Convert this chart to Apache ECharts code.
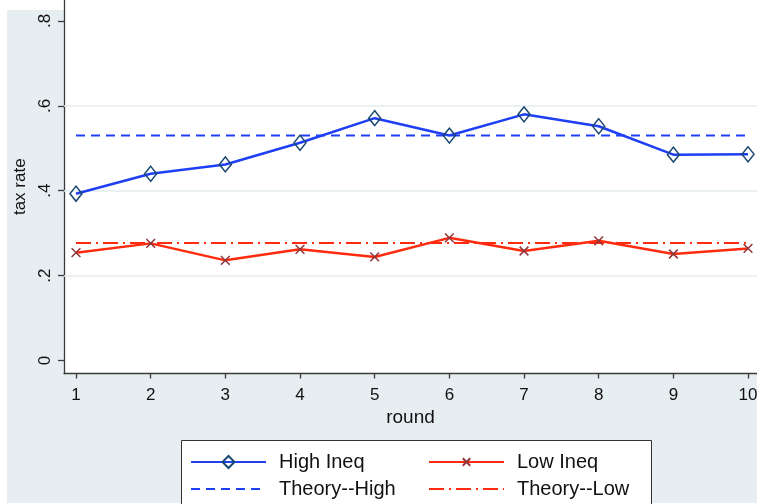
<!DOCTYPE html>
<html>
<head>
<meta charset="utf-8">
<script src="https://cdn.jsdelivr.net/npm/echarts@6/dist/echarts.min.js"></script>
<style>
  html, body { margin: 0; padding: 0; background: #fff; }
  #main { width: 757px; height: 504px; }
</style>
</head>
<body>
<div id="main"></div>
<script>
// data
var rounds = [1, 2, 3, 4, 5, 6, 7, 8, 9, 10];
var highIneq = [0.393, 0.440, 0.462, 0.513, 0.571, 0.530, 0.580, 0.552, 0.485, 0.486];
var lowIneq = [0.254, 0.276, 0.236, 0.262, 0.244, 0.289, 0.258, 0.282, 0.251, 0.264];
var theoryHigh = [0.53, 0.53, 0.53, 0.53, 0.53, 0.53, 0.53, 0.53, 0.53, 0.53];
var theoryLow = [0.277, 0.277, 0.277, 0.277, 0.277, 0.277, 0.277, 0.277, 0.277, 0.277];
var yTicks = [0, 0.2, 0.4, 0.6, 0.8];
var yGrid = [0.2, 0.4, 0.6];

function pairs(xs, ys) {
    return xs.map(function (x, i) { return [x, ys[i]]; });
}

var font = 'Liberation Sans, Arial, sans-serif';
var axisColor = '#3a3a3a';
var blue = '#1f3ff5';
var red = '#ff2b0f';

// one legend per entry so the 2x2 layout lines up like the original
function legendAt(item, left, top) {
    return {
        data: [item], left: left, top: top, padding: 0,
        itemWidth: 75, itemHeight: 15, z: 10,
        textStyle: { fontFamily: font, fontSize: 20, color: '#111', padding: [0, 0, 0, 8] }
    };
}
var hideMarker = { opacity: 0 };

var chart = echarts.init(document.getElementById('main'));
chart.setOption({
    animation: false,
    backgroundColor: '#fff',
    graphic: [
        {
            type: 'rect', z: -10, silent: true,
            shape: { x: 7, y: 10, width: 750, height: 493 },
            style: { fill: '#e7eef1' }
        },
        {
            type: 'rect', z: 5, silent: true,
            shape: { x: 181.5, y: 440.5, width: 470, height: 80 },
            style: { fill: '#fff', stroke: '#333', lineWidth: 1 }
        }
    ],
    grid: {
        left: 64, top: 0, right: 0, bottom: 130.5,
        outerBoundsMode: 'none', containLabel: false,
        show: true, backgroundColor: '#fff', borderWidth: 0, z: 0
    },
    legend: [
        legendAt('High Ineq', 190, 452),
        legendAt({ name: 'Theory--High', itemStyle: hideMarker }, 190, 479),
        legendAt('Low Ineq', 428, 452),
        legendAt({ name: 'Theory--Low', itemStyle: hideMarker }, 428, 479)
    ],
    xAxis: {
        type: 'value', min: 0.8393, max: 10.12,
        name: 'round', nameLocation: 'middle', nameGap: 35,
        nameTextStyle: { fontFamily: font, fontSize: 19, color: '#111' },
        axisLine: { show: true, onZero: false, lineStyle: { color: axisColor, width: 1.3 } },
        axisTick: { show: true, length: 5, customValues: rounds, lineStyle: { color: axisColor, width: 1.3 } },
        axisLabel: { customValues: rounds, margin: 13, fontFamily: font, fontSize: 17, color: '#111' },
        splitLine: { show: false }
    },
    yAxis: {
        type: 'value', min: -0.0306, max: 0.8494,
        name: 'tax rate', nameLocation: 'middle', nameGap: 35, nameRotate: 90,
        nameTextStyle: { fontFamily: font, fontSize: 17, color: '#111' },
        axisLine: { show: true, onZero: false, lineStyle: { color: axisColor, width: 1.3 } },
        axisTick: { show: true, length: 6, customValues: yTicks, lineStyle: { color: axisColor, width: 1.3 } },
        axisLabel: {
            customValues: yTicks, rotate: 90, margin: 10,
            fontFamily: font, fontSize: 17, color: '#111',
            formatter: function (v) { return v === 0 ? '0' : String(v).replace(/^0/, ''); }
        },
        splitLine: { show: false }
    },
    series: [
        {
            name: 'Theory--High', type: 'line', symbol: 'none', z: 2,
            data: pairs(rounds, theoryHigh),
            lineStyle: { color: blue, width: 2, type: [9, 6] },
            itemStyle: { color: blue },
            markLine: {
                silent: true, symbol: 'none', z: 1,
                label: { show: false },
                lineStyle: { color: '#e4ebee', width: 1.5, type: 'solid' },
                data: yGrid.map(function (v) { return { yAxis: v }; })
            }
        },
        {
            name: 'Theory--Low', type: 'line', symbol: 'none', z: 2,
            data: pairs(rounds, theoryLow),
            lineStyle: { color: red, width: 2, type: [15, 5, 2, 5] },
            itemStyle: { color: red }
        },
        {
            name: 'High Ineq', type: 'line', z: 3,
            data: pairs(rounds, highIneq),
            symbol: 'diamond', symbolSize: [12, 15],
            lineStyle: { color: blue, width: 2.5 },
            itemStyle: { color: 'rgba(255,255,255,0)', borderColor: '#1a476f', borderWidth: 1.5 }
        },
        {
            name: 'Low Ineq', type: 'line', z: 3,
            data: pairs(rounds, lowIneq),
            // padded cross so the legend copy stays small too
            symbol: 'path://M-3,-3M0,0L10,10M10,0L0,10M13,13', symbolSize: 14,
            lineStyle: { color: red, width: 2.5 },
            itemStyle: { color: 'rgba(255,255,255,0)', borderColor: '#90353b', borderWidth: 1.5 }
        }
    ]
});
</script>
</body>
</html>
